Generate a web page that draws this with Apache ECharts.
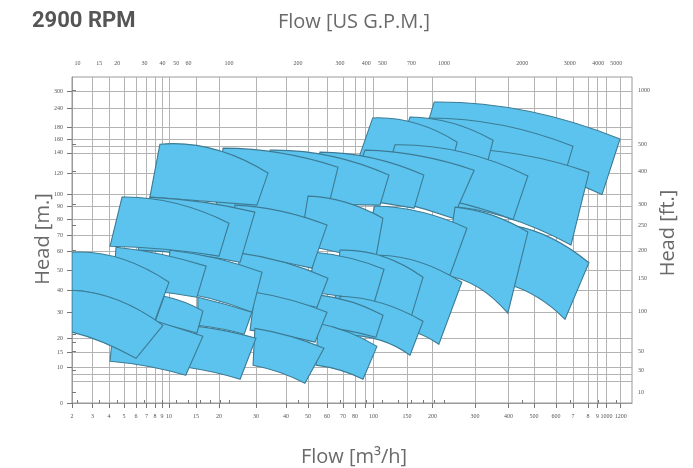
<!DOCTYPE html>
<html><head><meta charset="utf-8">
<script src="https://cdn.jsdelivr.net/npm/echarts@6/dist/echarts.min.js"></script>
<style>html,body{margin:0;padding:0;background:#fff}#c{width:693px;height:468px}</style>
</head><body><div id="c"></div>
<script>
// ---------------- data ----------------
// bottom axis: flow in m3/h
const flowTicks = [2,3,4,5,6,7,8,9,10,15,20,30,40,50,60,70,80,90,100,150,200,300,400,500,600,700,800,900,1000,1200];
const flowTickLabels = ['2','3','4','5','6','7','8','9','10','15','20','30','40','50','60','70','80','','100','150','200','300','400','500','600','7','8','9','1000','1200'];
// top axis: flow in US GPM
const gpmTicks = [10,15,20,30,40,50,60,70,80,90,100,200,300,400,500,600,700,800,900,1000,2000,3000,4000,5000];
const gpmTickLabels = ['10','15','20','30','40','50','60','','','','100','200','300','400','500','','700','','','1000','2000','3000','4000','5000'];
// left axis: head in m
const headTicks = [0,10,15,20,30,40,50,60,70,80,90,100,120,140,160,180,240,300];
// extra unlabeled horizontal grid lines (m)
const headExtraLines = [6,8,150];
// right axis: head in ft
const headFtTicks = [10,30,50,60,70,80,90,100,150,200,250,300,400,500,1000];
const headFtLabels = [10,30,50,100,150,200,250,300,400,500,1000];

// pump ranges, in drawing order: [flow m3/h, head m] at left end, middle, right end
const topCurves = [
 [[204,263],[473,232],[1190,161]],
 [[193,210],[378,188],[700,150]],
 [[253,146],[453,138],[810,121]],
 [[156,213],[246,194],[354,159]],
 [[99,210],[166,194],[258,156]],
 [[132,152],[269,141],[476,117.5]],
 [[425,76],[582,68],[810,54]],
 [[89.5,144],[175,137],[298,123]],
 [[253,89.5],[351,83.4],[476,72]],
 [[56.3,141],[98.1,135],[183,118.4]],
 [[102,90.3],[177.5,85.7],[281,74.5]],
 [[34.7,144],[61.9,137],[123,118.4]],
 [[109.7,58.1],[175.5,54.3],[269,44]],
 [[21.1,147],[38.3,139.7],[66.9,126]],
 [[50,98.7],[71.7,93.6],[114,81.1]],
 [[68.1,60.9],[112.7,57.6],[181.4,46.5]],
 [[53.7,59.7],[75.8,56.5],[115.7,50.5]],
 [[68.1,37.3],[112.7,34.2],[181.4,26.6]],
 [[24.3,91.1],[38.3,86.4],[60,76.5]],
 [[8.7,153],[18.9,145.6],[34,120.3]],
 [[56.3,37.8],[77.5,34.7],[114.2,29]],
 [[25.7,59.2],[39.3,54.3],[60.6,46]],
 [[7.4,97.9],[16.5,93.6],[29.7,85.7]],
 [[55.3,25.8],[74.2,22.3],[105.2,17]],
 [[29.7,39.1],[42.3,35.6],[60,30.2]],
 [[4.87,97.9],[11.1,92.8],[22.7,77.7]],
 [[10.2,60.9],[19.3,56.5],[32,49]],
 [[29.7,23.8],[41.8,20.7],[58.4,16.3]],
 [[15.4,36.9],[21.6,33.8],[28.9,30.2]],
 [[4.47,62.7],[8.86,58.6],[17.2,52.2]],
 [[15.4,24.6],[22.2,22.7],[30,19.9]],
 [[9.3,37.3],[12.8,34.7],[16.5,30.7]],
 [[2,59.7],[4.73,56.5],[10,44]],
 [[4.4,32],[8.7,26.2],[16.5,20.7]],
 [[2,40],[4.6,35.6],[9.14,25]]
];
const bottomCurves = [
 [[175,144],[410,131],[950,100]],
 [[168,128],[345,121],[624,104]],
 [[218,91],[390,82],[688,64]],
 [[137,144],[229,138],[339,133]],
 [[77.5,116],[140,111],[229,104]],
 [[113,104],[241,95],[418,80]],
 [[390,43.5],[514,37],[653,27.4]],
 [[75.8,99.6],[142.5,92.8],[248,81]],
 [[229,47.5],[309,41.5],[398,29.8]],
 [[51.1,99.6],[86.7,95.3],[164,88.7]],
 [[84.8,58.1],[147,54.3],[241,47.5]],
 [[31.3,97.9],[56.3,92.8],[109.7,91.1]],
 [[102.2,26.2],[156,23.1],[215,17.75]],
 [[19.1,83.4],[35.3,78.4],[57.4,72]],
 [[46.4,63.9],[66.9,59.7],[102,53.8]],
 [[65,35.6],[102.2,32],[156,27]],
 [[50,39.1],[69.4,37.3],[100.7,34.2]],
 [[71.7,21.1],[109.7,19.2],[156,13.9]],
 [[23,58.1],[35.3,55.4],[52.1,51.1]],
 [[7.4,97.9],[16.7,94.5],[30.3,91.1]],
 [[52.1,25],[71.7,23.1],[103.7,20.3]],
 [[24.3,37.8],[37,35.6],[54.7,32.4]],
 [[6.2,60.9],[13.9,58.6],[25.7,54.3]],
 [[54.2,10.6],[68.1,9.1],[87.6,6.6]],
 [[28.4,23.1],[39,21.1],[53.7,18.5]],
 [[4.07,63.3],[9.4,61.5],[20,57.6]],
 [[9.4,40],[18,36.4],[28.9,30.2]],
 [[29.2,10.6],[38,8.5],[48.6,5.5]],
 [[15.4,25],[20.8,23.5],[26.8,21.5]],
 [[4.27,41],[8,39.6],[15.2,36.9]],
 [[13.3,9.9],[18.9,8.5],[25.7,6.6]],
 [[8,26.2],[11.3,24.2],[15.2,21.9]],
 [[2,40],[4.27,36.3],[8,27]],
 [[4.07,11.9],[7.2,10.2],[13.1,7.7]],
 [[2,22.3],[3.6,18.5],[6,12.9]]
];

// ---------------- axis scale calibration (the printed grid is not a pure log scale) ----------------
const xCalibVals = [2,3,4,5,6,7,8,9,10,15,20,30,40,50,60,70,80,90,100,150,200,300,400,500,600,700,800,900,1000,1200];
const xCalibPos  = [0,20.5,37,52,64,74.5,83,90,97,124,147,184,214,236,255,271,283,293.5,301.5,335,360.5,403,436.5,462,484,501,516,525.5,534.5,548.7];
const yCalibVals = [0,10,15,20,30,40,50,60,70,80,90,100,120,140,160,180,240,300];
const yCalibPos  = [0,36,51,65,90.2,112.7,132.7,151.2,167.7,183.2,196.4,208.2,229.4,250,263.2,275.2,294.4,311];
const X_MAX = 560, Y_MAX = 325.7;
const GPM_PER_M3H = 4.4029, M_PER_FT = 0.3048;

function interp(v, vals, pos){
  let i = 0;
  while (i < vals.length - 2 && v > vals[i+1]) i++;
  const t = (v - vals[i]) / (vals[i+1] - vals[i]);
  return pos[i] + t * (pos[i+1] - pos[i]);
}
const xU = q => interp(q, xCalibVals, xCalibPos);
const yU = h => interp(h, yCalibVals, yCalibPos);

function nearestLabel(v, posArr, labels){
  let best = 0, bd = Infinity;
  posArr.forEach((p, i) => { const d = Math.abs(p - v); if (d < bd) { bd = d; best = i; } });
  return labels[best];
}

const flowPos = flowTicks.map(xU);
const gpmPos = gpmTicks.map(g => xU(g / GPM_PER_M3H));
const headPos = headTicks.map(yU);
const extraPos = headExtraLines.map(yU);
const ftTickPos = headFtTicks.map(f => yU(f * M_PER_FT));
const ftLabelPos = headFtLabels.map(f => yU(f * M_PER_FT));

const labelFont = {fontFamily: '"Liberation Serif", serif', fontSize: 6, color: '#555'};
const tickLine = {color: '#777', width: 1};
const gridLine = {color: '#b3b3b3', width: 1};

const chart = echarts.init(document.getElementById('c'), null, {renderer: 'canvas'});
chart.setOption({
  animation: false,
  backgroundColor: '#fff',
  grid: {left: 72, right: 61, top: 77, bottom: 65, containLabel: false, outerBoundsMode: 'none',
         show: true, borderColor: '#9a9a9a', borderWidth: 1, backgroundColor: 'transparent'},
  xAxis: [
    {type: 'value', position: 'bottom', min: 0, max: X_MAX,
     axisLine: {show: true, lineStyle: {color: '#9a9a9a'}},
     axisTick: {show: true, customValues: flowPos, length: 5, lineStyle: tickLine},
     axisLabel: Object.assign({customValues: flowPos, margin: 10,
        formatter: v => nearestLabel(v, flowPos, flowTickLabels)}, labelFont),
     splitLine: {show: true, lineStyle: gridLine}},
    {type: 'value', position: 'top', min: 0, max: X_MAX, offset: 4,
     axisLine: {show: false},
     axisTick: {show: true, customValues: gpmPos, length: 3, lineStyle: tickLine},
     axisLabel: Object.assign({customValues: gpmPos, margin: 7,
        formatter: v => nearestLabel(v, gpmPos, gpmTickLabels)}, labelFont),
     splitLine: {show: false}}
  ],
  yAxis: [
    {type: 'value', position: 'left', min: 0, max: Y_MAX,
     axisLine: {show: true, lineStyle: {color: '#9a9a9a'}},
     axisTick: {show: true, customValues: headPos, length: 5, lineStyle: tickLine},
     axisLabel: Object.assign({customValues: headPos, margin: 9,
        formatter: v => String(nearestLabel(v, headPos, headTicks))}, labelFont),
     splitLine: {show: true, lineStyle: gridLine}},
    {type: 'value', position: 'right', min: 0, max: Y_MAX, offset: 3,
     axisLine: {show: false},
     axisTick: {show: true, customValues: ftTickPos, length: 4, lineStyle: tickLine},
     axisLabel: Object.assign({customValues: ftLabelPos, margin: 3,
        formatter: v => String(nearestLabel(v, ftLabelPos, headFtLabels))}, labelFont),
     splitLine: {show: false}},
    {type: 'value', position: 'left', min: 0, max: Y_MAX,
     axisLine: {show: false}, axisLabel: {show: false},
     axisTick: {show: false, customValues: extraPos},
     splitLine: {show: true, lineStyle: gridLine}}
  ],
  graphic: [
    {type: 'text', left: 32, top: 10, style: {text: '2900 RPM', font: 'bold 22px Roboto', fill: '#555'}},
    {type: 'text', x: 354, y: 22, style: {text: 'Flow [US G.P.M.]', font: '20px "Open Sans"', fill: '#6a6a6a', align: 'center', verticalAlign: 'middle'}},
    {type: 'text', x: 43, y: 239, rotation: Math.PI / 2, style: {text: 'Head [m.]', font: '20px "Open Sans"', fill: '#6a6a6a', align: 'center', verticalAlign: 'middle'}},
    {type: 'text', x: 668, y: 233, rotation: Math.PI / 2, style: {text: 'Head [ft.]', font: '20px "Open Sans"', fill: '#6a6a6a', align: 'center', verticalAlign: 'middle'}},
    {type: 'text', x: 354, y: 457, style: {text: 'Flow [m³/h]', font: '20px "Open Sans"', fill: '#6a6a6a', align: 'center', verticalAlign: 'middle'}}
  ],
  series: [{
    type: 'custom',
    xAxisIndex: 0, yAxisIndex: 0,
    silent: true,
    clip: true,
    data: topCurves.map((c, i) => [xU(c[0][0]), yU(c[0][1]), i]),
    renderItem: function (params, api) {
      const i = params.dataIndex;
      const P = pt => api.coord([xU(pt[0]), yU(pt[1])]);
      const t = topCurves[i].map(P), b = bottomCurves[i].map(P);
      const ctrl = (a, m, c) => [2 * m[0] - (a[0] + c[0]) / 2, 2 * m[1] - (a[1] + c[1]) / 2];
      const ct = ctrl(t[0], t[1], t[2]), cb = ctrl(b[2], b[1], b[0]);
      const d = 'M' + t[0][0] + ' ' + t[0][1] +
        ' Q' + ct[0] + ' ' + ct[1] + ' ' + t[2][0] + ' ' + t[2][1] +
        ' L' + b[2][0] + ' ' + b[2][1] +
        ' Q' + cb[0] + ' ' + cb[1] + ' ' + b[0][0] + ' ' + b[0][1] + ' Z';
      return {type: 'path', shape: {pathData: d},
              style: {fill: '#5cc3ef', stroke: '#3c7b93', lineWidth: 1.1, lineJoin: 'miter'}};
    }
  }]
});
</script></body></html>
